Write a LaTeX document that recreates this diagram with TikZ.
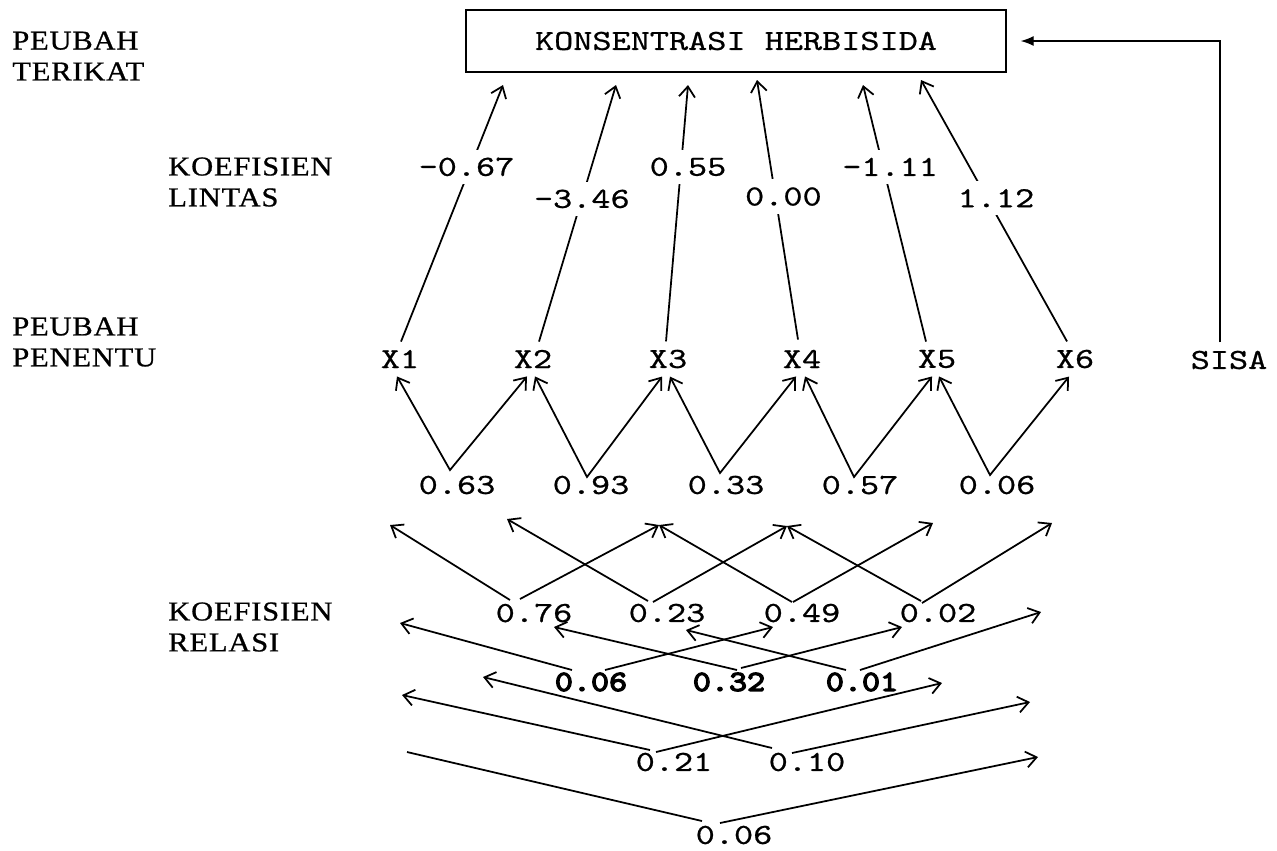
\documentclass[tikz,border=0pt]{standalone}
\usepackage{fontspec}
\newfontfamily\cour{lmmono10-regular.otf}[FakeStretch=1.25,FakeBold=0.7]
\newfontfamily\courb{lmmono10-regular.otf}[FakeStretch=1.18,FakeBold=4.5]
\newfontfamily\labfont{Liberation Serif}[FakeStretch=1.12,LetterSpace=3,FakeBold=0.8]
\usetikzlibrary{arrows.meta,calc}
\begin{document}
\begin{tikzpicture}[x=0.02cm,y=-0.02cm,
  mono/.style={font=\fontsize{16.6}{20}\selectfont\cour, inner sep=0pt},
  var/.style={mono, inner xsep=0.04cm, inner ysep=0.16cm},
  coef/.style={mono, fill=white, inner xsep=0pt, inner ysep=0.16cm},
  rel/.style={mono},
  relb/.style={font=\fontsize{16.6}{20}\selectfont\courb, inner sep=0pt},
  side/.style={font=\fontsize{15.5}{17.6}\selectfont\labfont, align=left, anchor=west, inner sep=0pt},
  ln/.style={line width=1pt},
  arr/.style={ln, -{Straight Barb[length=2.1mm,width=3.2mm]}},
  darr/.style={ln, {Straight Barb[length=2.1mm,width=3.2mm]}-{Straight Barb[length=2.1mm,width=3.2mm]}},
]
\useasboundingbox (0,0) rectangle (1277,850);

% side labels
\node[side] (lt) at (12,56) {PEUBAH\\TERIKAT};
\node[side] (ll) at (168,182) {KOEFISIEN\\LINTAS};
\node[side] (lp) at (12,342) {PEUBAH\\PENENTU};
\node[side] (lr) at (168,627) {KOEFISIEN\\RELASI};

% dependent variable
\node[mono, draw, line width=0.9pt, minimum width=10.8cm, minimum height=1.24cm] (box) at (736,41) {KONSENTRASI HERBISIDA};

% predictors
\node[var] (X1) at (400,359) {X1};
\node[var] (X2) at (533,359) {X2};
\node[var] (X3) at (668,359) {X3};
\node[var] (X4) at (802,359) {X4};
\node[var] (X5) at (937,359) {X5};
\node[var] (X6) at (1075,359) {X6};
\node[var] (SISA) at (1229,360) {SISA};

% residual arrow
\draw[line width=0.7pt, -{Latex[length=2.6mm,width=2mm]}, shorten >=0.28cm]
  ($(SISA.north)+(-9,0)$) |- (box.east);

% path coefficient arrows
\coordinate (t1) at (503,85);
\coordinate (t2) at (616,85);
\coordinate (t3) at (688,85);
\coordinate (t4) at (757,80);
\coordinate (t5) at (863,85);
\coordinate (t6) at (921,80);
\draw[arr] ($(X1.north)+(1,0)$) -- node[coef, pos=0.681, xshift=-0.08cm] (c1) {-0.67} (t1);
\draw[arr] ($(X2.north)+(6,0)$) -- node[coef, pos=0.556] (c2) {-3.46} (t2);
\draw[arr] ($(X3.north)+(-2,0)$) -- node[coef, pos=0.681, xshift=0.14cm] (c3) {0.55} (t3);
\draw[arr] ($(X4.north)+(-4,-2)$) -- node[coef, pos=0.551, xshift=0.16cm] (c4) {0.00} (t4);
\draw[arr] ($(X5.north)+(-11,0)$) -- node[coef, pos=0.681, xshift=0.14cm] (c5) {-1.11} (t5);
\draw[arr] ($(X6.north)+(-8,0)$) -- node[coef, pos=0.548, xshift=0.18cm] (c6) {1.12} (t6);

% correlation labels, row 1
\node[rel] (r12) at (457,485) {0.63};
\node[rel] (r23) at (591,485) {0.93};
\node[rel] (r34) at (726,485) {0.33};
\node[rel] (r45) at (860,485) {0.57};
\node[rel] (r56) at (997,485) {0.06};
\draw[darr] ($(X1.south)+(-3,0)$) -- ($(r12)+(-7,-15)$) -- ($(X2.south)+(-6,0)$);
\draw[darr] ($(X2.south)+(2,0)$) -- ($(r23)+(-4,-8)$) -- ($(X3.south)+(-6,0)$);
\draw[darr] ($(X3.south)+(2,0)$) -- ($(r34)+(-6,-12)$) -- ($(X4.south)+(-6,0)$);
\draw[darr] ($(X4.south)+(3,0)$) -- ($(r45)+(-6,-8)$) -- ($(X5.south)+(-5,0)$);
\draw[darr] ($(X5.south)+(2,0)$) -- ($(r56)+(-7,-10)$) -- ($(X6.south)+(-6,0)$);

% row 2
\node[rel] (r13) at (534,613) {0.76};
\node[rel] (r24) at (667,613) {0.23};
\node[rel] (r35) at (802,613) {0.49};
\node[rel] (r46) at (938,613) {0.02};
\coordinate (u1) at (390,525);
\coordinate (u2) at (507,519);
\coordinate (u3) at (659,525);
\coordinate (u4) at (787,526);
\coordinate (u5) at (933,523);
\coordinate (u6) at (1052,523);
\draw[arr] ($(r13)+(-24,-13)$) -- (u1);
\draw[arr] ($(r13)+(-14,-14)$) -- (u3);
\draw[arr] ($(r24)+(-19,-12)$) -- (u2);
\draw[arr] ($(r24)+(-14,-11)$) -- (u4);
\draw[arr] ($(r35)+(-10,-11)$) -- (u3);
\draw[arr] ($(r35)+(-9,-11)$) -- (u5);
\draw[arr] ($(r46)+(-17,-12)$) -- (u4);
\draw[arr] ($(r46)+(-16,-10)$) -- (u6);

% row 3
\node[relb] (r14) at (591,682) {0.06};
\node[relb] (r25) at (729,682) {0.32};
\node[relb] (r36) at (862,682) {0.01};
\coordinate (v1) at (400,623);
\coordinate (v2) at (554,627);
\coordinate (v3) at (686,630);
\coordinate (v4) at (773,627);
\coordinate (v5) at (902,627);
\coordinate (v6) at (1041,612);
\draw[arr] ($(r14)+(-19,-12)$) -- (v1);
\draw[arr] ($(r14)+(14,-12)$) -- (v4);
\draw[arr] ($(r25)+(8,-12)$) -- (v2);
\draw[arr] ($(r25)+(12,-14)$) -- (v5);
\draw[arr] ($(r36)+(-16,-12)$) -- (v3);
\draw[arr] ($(r36)+(-2,-12)$) -- (v6);

% row 4
\node[rel] (r15) at (674,762) {0.21};
\node[rel] (r26) at (807,762) {0.10};
\coordinate (w1) at (402,695);
\coordinate (w2) at (483,677);
\coordinate (w5) at (942,683);
\coordinate (w6) at (1030,702);
\draw[arr] ($(r15)+(-24,-12)$) -- (w1);
\draw[arr] ($(r15)+(-18,-10)$) -- (w5);
\draw[arr] ($(r26)+(-35,-14)$) -- (w2);
\draw[arr] ($(r26)+(-15,-9)$) -- (w6);

% row 5
\node[rel] (r16) at (734,835) {0.06};
\coordinate (z1) at (407,752);
\coordinate (z6) at (1038,757);
\draw[ln] ($(r16)+(-32,-14)$) -- (z1);
\draw[arr] ($(r16)+(-14,-12)$) -- (z6);
\end{tikzpicture}
\end{document}
